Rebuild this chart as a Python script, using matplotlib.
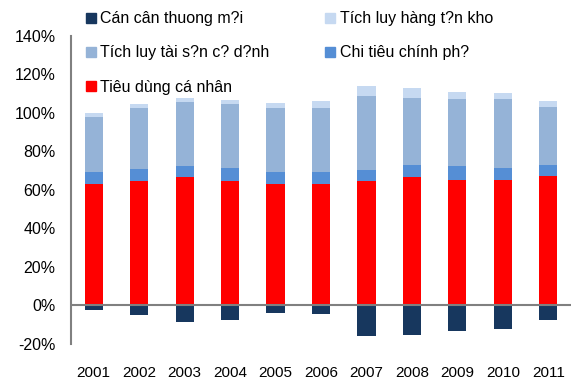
import numpy as np
import matplotlib
matplotlib.use('Agg')
import matplotlib.pyplot as plt
from matplotlib.patches import Patch

plt.rcParams['font.family'] = ['Liberation Sans', 'DejaVu Sans']

# Données (% du PIB)
annees = ['2001', '2002', '2003', '2004', '2005', '2006', '2007', '2008', '2009', '2010', '2011']
tieu_dung = [63.2, 64.9, 66.5, 64.9, 63.2, 63.2, 64.9, 67.0, 65.4, 65.4, 67.4]
chi_tieu = [6.2, 6.1, 6.0, 6.6, 6.2, 6.2, 5.6, 6.1, 7.1, 6.1, 5.7]
tich_luy_ts = [28.7, 31.6, 33.4, 33.2, 33.2, 33.2, 38.3, 34.7, 34.8, 35.8, 30.0]
tich_luy_hang = [1.9, 2.1, 1.9, 2.0, 2.4, 3.6, 5.2, 5.2, 3.6, 3.1, 3.1]
can_can = [-2.2, -4.9, -8.5, -7.5, -3.9, -4.4, -15.8, -15.4, -13.3, -12.0, -7.5]

noms = ['Cán cân thuong m?i', 'Tích luy hàng t?n kho', 'Tích luy tài s?n c? d?nh',
        'Chi tiêu chính ph?', 'Tiêu dùng cá nhân']
couleurs = {'can': '#17375E', 'hang': '#C6D9F1', 'ts': '#95B3D7', 'chi': '#558ED5', 'tieu': '#FF0000'}

fig = plt.figure(figsize=(5.77, 3.85), dpi=100)
ax = fig.add_axes([0.123, 0.1065, 0.8666, 0.80])

x = np.arange(len(annees))
w = 0.4
b1 = np.array(tieu_dung)
b2 = b1 + np.array(chi_tieu)
b3 = b2 + np.array(tich_luy_ts)
ax.bar(x, tieu_dung, w, color=couleurs['tieu'], zorder=2)
ax.bar(x, chi_tieu, w, bottom=b1, color=couleurs['chi'], zorder=2)
ax.bar(x, tich_luy_ts, w, bottom=b2, color=couleurs['ts'], zorder=2)
ax.bar(x, tich_luy_hang, w, bottom=b3, color=couleurs['hang'], zorder=2)
ax.bar(x, can_can, w, color=couleurs['can'], zorder=2)

ax.axhline(0, color='#808080', lw=1.5, zorder=3)

ax.set_xlim(-0.5, len(annees) - 0.5)
ax.set_ylim(-20, 140)
ax.set_yticks(range(-20, 141, 20))
ax.set_yticklabels(['%d%%' % v for v in range(-20, 141, 20)])
ax.set_xticks(x)
ax.set_xticklabels(annees)

for s in ['top', 'right', 'bottom']:
    ax.spines[s].set_visible(False)
ax.spines['left'].set_color('#808080')
ax.spines['left'].set_linewidth(1.5)
ax.tick_params(axis='y', length=0, labelsize=11.5, pad=11)
ax.tick_params(axis='x', length=0, labelsize=11, pad=16)

# Légende (deux colonnes, ordre colonne par colonne)
handles = [Patch(color=couleurs['can']), Patch(color=couleurs['ts']), Patch(color=couleurs['tieu']),
           Patch(color=couleurs['hang']), Patch(color=couleurs['chi'])]
labels = [noms[0], noms[2], noms[4], noms[1], noms[3]]
fig.legend(handles, labels, ncol=2, loc='upper left', bbox_to_anchor=(0.124, 1.008),
           frameon=False, fontsize=11.5, handlelength=0.6, handleheight=0.6,
           handletextpad=0.3, columnspacing=3.5, labelspacing=1.2)

fig.savefig('out.png', dpi=100)
